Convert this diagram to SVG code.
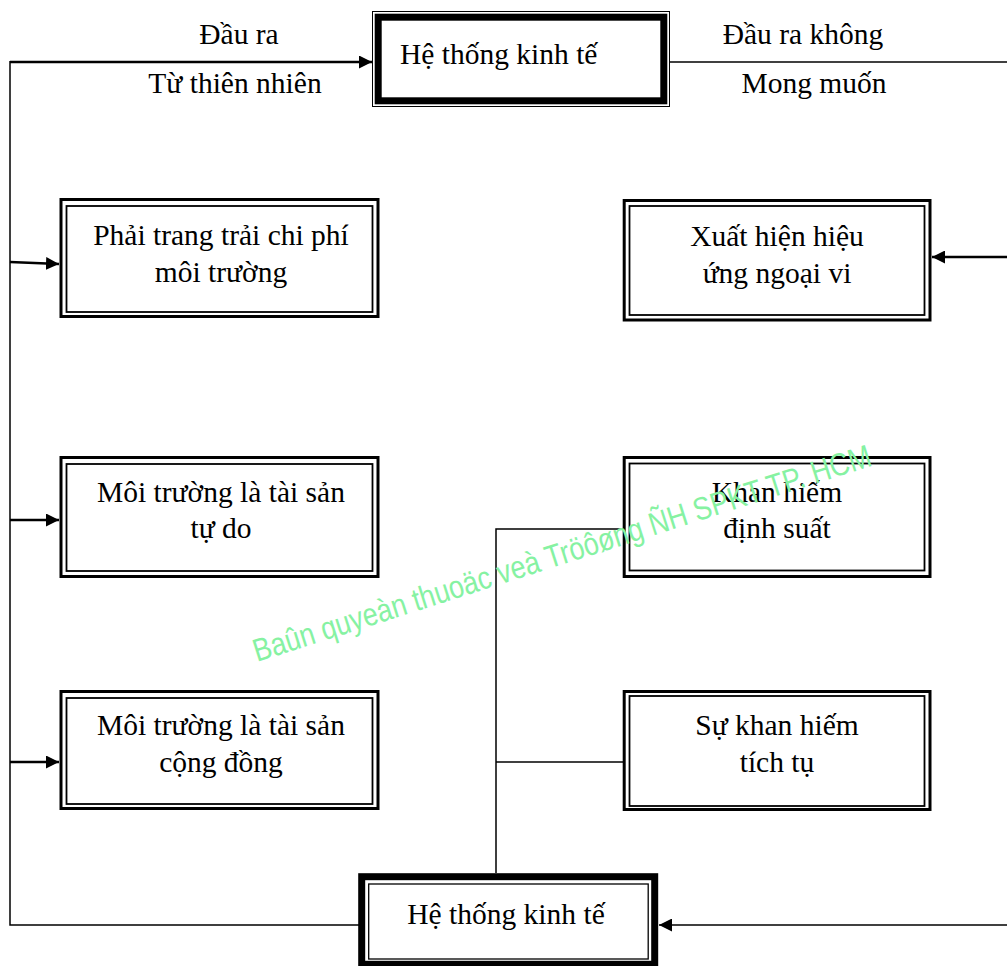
<svg xmlns="http://www.w3.org/2000/svg" width="1007" height="966" viewBox="0 0 1007 966">
<defs>
<style>
.t{font-family:"Liberation Serif","Times New Roman",serif;font-size:29.5px;fill:#000}
.c{text-anchor:middle}
.ob{fill:#fff;stroke:#000;stroke-width:3}
.ib{fill:none;stroke:#000;stroke-width:1.8}
.ln{fill:none;stroke:#000;stroke-width:1.5}
.la{fill:none;stroke:#000;stroke-width:2.5}
.wm{font-family:"Liberation Sans",Arial,sans-serif;font-size:32px;fill:#86F2A2}
</style>
<marker id="ah" markerUnits="userSpaceOnUse" markerWidth="14" markerHeight="13" refX="13" refY="6.5" orient="auto">
<path d="M0,0 L13,6.5 L0,13 Z" fill="#000"/>
</marker>
</defs>
<rect width="1007" height="966" fill="#fff"/>

<g id="connectors">
<path class="la" d="M10,62 H372" marker-end="url(#ah)"/>
<path class="ln" d="M10,61 V925 H359"/>
<path class="ln" d="M670,62 H1007" stroke-width="1"/>
<path class="la" d="M10,262 L59,264" marker-end="url(#ah)"/>
<path class="la" d="M10,520 H59" marker-end="url(#ah)"/>
<path class="la" d="M10,762 H59" marker-end="url(#ah)"/>
<path class="la" d="M1007,257 H932" marker-end="url(#ah)"/>
<path class="ln" d="M1007,925 H659" marker-end="url(#ah)"/>
<path class="ln" d="M496,873 V529 H623" stroke="#333"/>
<path class="ln" d="M496,762 H623"/>
</g>

<g id="top-labels">
<text class="t c" x="239" y="44">Đầu ra</text>
<text class="t c" x="235" y="93">Từ thiên nhiên</text>
<text class="t c" x="803" y="44">Đầu ra không</text>
<text class="t c" x="814" y="93">Mong muốn</text>
</g>

<g id="node-top">
<rect x="372.5" y="11.5" width="297" height="95" fill="#fff" stroke="#000" stroke-width="1"/>
<rect x="378.2" y="17.2" width="285.6" height="83.6" fill="#fff" stroke="#000" stroke-width="7"/>
<text class="t" x="400" y="64">Hệ thống kinh tế</text>
</g>

<g id="node-l1">
<rect class="ob" x="61" y="199.5" width="317" height="117"/>
<rect class="ib" x="66.5" y="206" width="306" height="106"/>
<text class="t c" x="221" y="245">Phải trang trải chi phí</text>
<text class="t c" x="221" y="282">môi trường</text>
</g>

<g id="node-l2">
<rect class="ob" x="61" y="457.5" width="317" height="119"/>
<rect class="ib" x="66.5" y="464" width="306" height="107"/>
<text class="t c" x="221" y="502">Môi trường là tài sản</text>
<text class="t c" x="221" y="538">tự do</text>
</g>

<g id="node-l3">
<rect class="ob" x="61" y="691.5" width="317" height="117"/>
<rect class="ib" x="66.5" y="698" width="306" height="106"/>
<text class="t c" x="221" y="735">Môi trường là tài sản</text>
<text class="t c" x="221" y="772">cộng đồng</text>
</g>

<g id="node-r1">
<rect class="ob" x="624.2" y="200.5" width="305.8" height="119.5"/>
<rect class="ib" x="629.5" y="206" width="295" height="109"/>
<text class="t c" x="777" y="246">Xuất hiện hiệu</text>
<text class="t c" x="777" y="283">ứng ngoại vi</text>
</g>

<g id="node-r2">
<rect class="ob" x="624.2" y="457.5" width="305.8" height="119"/>
<rect class="ib" x="629.5" y="463.5" width="295" height="107"/>
<text class="t c" x="777" y="502">Khan hiếm</text>
<text class="t c" x="777" y="538">định suất</text>
</g>

<g id="node-r3">
<rect class="ob" x="624.2" y="691.5" width="305.8" height="118"/>
<rect class="ib" x="629.5" y="696" width="295" height="110"/>
<text class="t c" x="777" y="735">Sự khan hiếm</text>
<text class="t c" x="777" y="772">tích tụ</text>
</g>

<g id="node-bottom">
<rect x="361.7" y="876.7" width="293" height="87.6" fill="#fff" stroke="#000" stroke-width="7"/>
<rect x="368.7" y="884" width="279.5" height="75" fill="none" stroke="#000" stroke-width="1.3"/>
<text class="t c" x="506" y="924">Hệ thống kinh tế</text>
</g>

<text class="wm" x="257" y="662" transform="rotate(-17.7 257 662)" textLength="647" lengthAdjust="spacingAndGlyphs">Baûn quyeàn thuoäc veà Tröôøng ÑH SPKT TP. HCM</text>
</svg>
